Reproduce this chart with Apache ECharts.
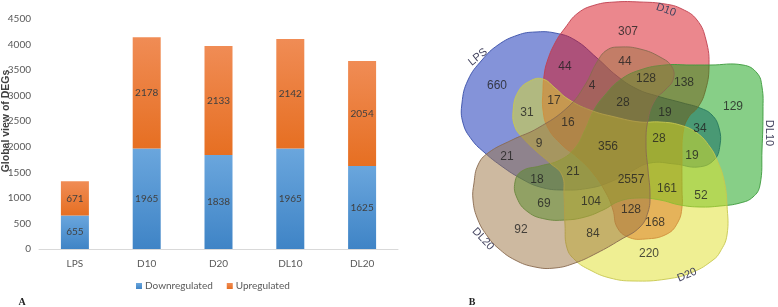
<!DOCTYPE html>
<html><head><meta charset="utf-8">
<script src="https://cdn.jsdelivr.net/npm/echarts@6/dist/echarts.min.js"></script>
<style>html,body{margin:0;padding:0;background:#fff}#c{width:778px;height:307px}</style>
</head><body><div id="c"></div>
<script>
// ---- Panel A data ----
const categories = ['LPS', 'D10', 'D20', 'DL10', 'DL20'];
const downregulated = [655, 1965, 1838, 1965, 1625];
const upregulated = [671, 2178, 2133, 2142, 2054];
const seriesNames = ['Downregulated', 'Upregulated'];
const yMin = 0, yMax = 4500, yStep = 500;

// ---- Panel B data ----
const vennSets = ['LPS', 'D10', 'DL10', 'D20', 'DL20'];
const vennCounts = [660, 307, 129, 220, 92, 44, 44, 128, 138, 4, 17, 28, 19, 31, 16, 34, 28, 9, 356, 19, 21, 18, 21, 2557, 161, 52, 69, 104, 128, 168, 84];

// ---- Panel B layout (diagram geometry, not data) ----
const vennCountPos = [[497,86],[628,32],[733,107],[649,254],[521,230],[565,67],[625,62],[646,79],[684,83],[592,86],[554,101],[623,103],[665,113],[527,113],[568,123],[700,129],[659,139],[539,144],[608,147],[692,156],[507,157],[537,180],[573,172],[631,180],[667,189],[701,196],[544,204],[591,202],[631,210],[655,223],[593,234]];
const vennNamePos = [[478,57,39],[666,10,-20],[769,133,-90],[687,275,23],[483,239,-47]];
const vennOutlines = [
  [[555,33],[575,40],[597,58],[617,76],[637,89],[657,96],[683,103],[700,108],[712,115],[719,128],[720,145],[714,160],[698,167],[675,164],[650,163],[630,172],[610,182],[590,188],[563,190],[540,187],[520,178],[500,165],[485,153],[472,140],[463,123],[462,103],[468,80],[482,60],[498,45],[518,35],[535,32]],
  [[547,62],[555,43],[565,28],[578,13],[595,5],[615,2],[640,2],[665,4],[682,9],[697,20],[706,40],[709,67],[705,92],[698,107],[688,118],[683,133],[682,160],[682,190],[682,207],[678,222],[667,234],[645,239],[628,237],[617,227],[613,210],[606,193],[592,172],[577,157],[562,145],[548,128],[543,110],[543,90],[544,76]],
  [[743,65],[757,73],[762,87],[763,110],[762,150],[760,185],[753,197],[740,203],[720,206],[700,207],[680,205],[660,200],[640,198],[620,201],[603,210],[585,217],[565,220],[545,219],[528,212],[517,198],[515,182],[522,171],[540,166],[560,160],[575,148],[585,130],[594,110],[605,95],[620,80],[640,70],[665,65],[690,65],[710,65]],
  [[513,112],[518,92],[530,81],[543,79],[555,88],[568,99],[590,110],[615,117],[640,122],[660,122],[680,125],[697,133],[710,147],[717,160],[724,180],[727,205],[727,235],[720,252],[713,260],[693,272],[667,279],[633,281],[610,278],[590,270],[575,260],[567,248],[565,225],[564,195],[562,175],[550,163],[535,150],[522,137],[515,127]],
  [[607,50],[620,47],[640,49],[660,57],[672,67],[673,80],[665,90],[655,100],[648,120],[646,145],[648,170],[650,195],[648,212],[640,227],[620,240],[597,253],[575,263],[555,268],[535,267],[515,260],[498,248],[488,237],[478,220],[473,200],[474,183],[478,165],[488,153],[512,140],[538,128],[568,107],[585,85],[597,62]]
];
const vennFill = ['#0a28b4', '#d8101c', '#10a010', '#e0e028', '#9b7341'];
const vennStroke = ['#3a50a8', '#c04050', '#3c9a3c', '#c8c850', '#8a6a50'];

const FONT = 'Lato, "Liberation Sans", sans-serif';
const chart = echarts.init(document.getElementById('c'));

function grad(top, bottom) {
  return new echarts.graphic.LinearGradient(0, 0, 0, 1, [{offset: 0, color: top}, {offset: 1, color: bottom}]);
}

const option = {
  animation: false,
  textStyle: {fontFamily: FONT},
  grid: [
    {left: 39, top: 19, width: 359, height: 230},
    {left: 390, top: 0, width: 388, height: 307}
  ],
  xAxis: [
    {type: 'category', gridIndex: 0, data: categories,
     axisLine: {lineStyle: {color: '#d9d9d9'}}, axisTick: {show: false},
     axisLabel: {color: '#595959', fontSize: 10, margin: 10}},
    {type: 'value', gridIndex: 1, min: 390, max: 778, show: false}
  ],
  yAxis: [
    {type: 'value', gridIndex: 0, min: yMin, max: yMax, interval: yStep,
     splitLine: {show: false}, axisLine: {show: false}, axisTick: {show: false},
     axisLabel: {color: '#595959', fontSize: 10, margin: 8, formatter: v => String(v)}},
    {type: 'value', gridIndex: 1, min: 0, max: 307, inverse: true, show: false}
  ],
  legend: {
    data: seriesNames, left: 131, top: 276, icon: 'rect', itemWidth: 6, itemHeight: 6, itemGap: 14,
    textStyle: {color: '#595959', fontSize: 10, padding: [0, 0, 0, -2]}
  },
  graphic: [
    {type: 'text', x: 6, y: 121, rotation: Math.PI / 2, style: {text: 'Global view of DEGs', font: 'bold 10.5px "Liberation Sans", sans-serif', fill: '#404040', align: 'center', verticalAlign: 'middle'}},
    {type: 'text', x: 22, y: 302, style: {text: 'A', font: 'bold 10px "Liberation Serif", serif', fill: '#222', align: 'center', verticalAlign: 'middle'}},
    {type: 'text', x: 472, y: 302, style: {text: 'B', font: 'bold 10px "Liberation Serif", serif', fill: '#222', align: 'center', verticalAlign: 'middle'}}
  ],
  series: [
    {name: seriesNames[0], type: 'bar', stack: 'deg', data: downregulated, barWidth: 28,
     xAxisIndex: 0, yAxisIndex: 0,
     itemStyle: {color: grad('#6aa6dd', '#3f84c6')},
     label: {show: true, position: 'inside', color: '#404040', fontSize: 10}},
    {name: seriesNames[1], type: 'bar', stack: 'deg', data: upregulated, barWidth: 28,
     xAxisIndex: 0, yAxisIndex: 0,
     itemStyle: {color: grad('#f08c55', '#e66f22')},
     label: {show: true, position: 'inside', color: '#404040', fontSize: 10}},
    {type: 'custom', xAxisIndex: 1, yAxisIndex: 1, clip: false, silent: true,
     data: vennSets.map((s, i) => [i, 0]),
     renderItem: function (params, api) {
       const i = params.dataIndex;
       const pts = vennOutlines[i].map(p => api.coord(p));
       return {type: 'polygon', shape: {points: pts, smooth: 0.45},
               style: {fill: vennFill[i], opacity: 1, fillOpacity: 0.5, stroke: vennStroke[i], lineWidth: 1, strokeOpacity: 0.9}};
     }},
    {type: 'custom', xAxisIndex: 1, yAxisIndex: 1, clip: false, silent: true,
     data: vennSets.map((s, i) => [i, 0]),
     renderItem: function (params, api) {
       const i = params.dataIndex;
       const pos = api.coord([vennNamePos[i][0], vennNamePos[i][1]]);
       return {type: 'text', x: pos[0], y: pos[1], rotation: vennNamePos[i][2] * Math.PI / 180,
               style: {text: vennSets[i], font: '11px "Liberation Sans", sans-serif', fill: '#454560', align: 'center', verticalAlign: 'middle'}};
     }},
    {type: 'scatter', xAxisIndex: 1, yAxisIndex: 1, symbolSize: 0, silent: true,
     data: vennCountPos.map((p, i) => [p[0], p[1], vennCounts[i]]),
     label: {show: true, position: 'inside', color: '#222', fontSize: 12, fontFamily: '"Liberation Sans", sans-serif',
             formatter: p => String(p.value[2])}}
  ]
};
chart.setOption(option);
</script>
</body></html>
